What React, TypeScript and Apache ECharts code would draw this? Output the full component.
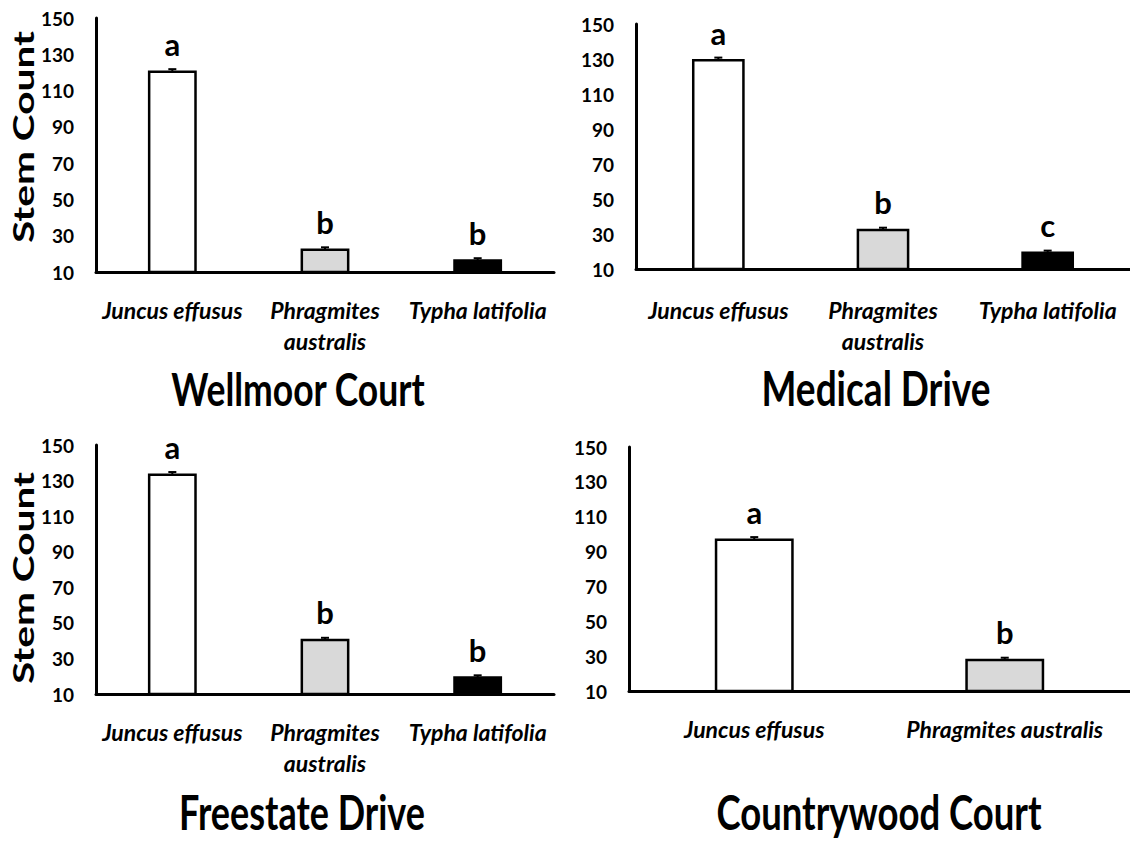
import React, { useEffect, useRef } from "react";
import * as echarts from "echarts";

const siteNames = ["Wellmoor Court", "Medical Drive", "Freestate Drive", "Countrywood Court"];
const speciesThree = ["Juncus effusus", "Phragmites\naustralis", "Typha latifolia"];
const speciesTwo = ["Juncus effusus", "Phragmites australis"];
const yTicks = [10, 30, 50, 70, 90, 110, 130, 150];

const wellmoorCounts = [121, 23, 17];
const wellmoorErrors = [0.8, 0.6, 0.6];
const wellmoorLetters = ["a", "b", "b"];

const medicalCounts = [130, 33, 20];
const medicalErrors = [0.8, 0.6, 0.5];
const medicalLetters = ["a", "b", "c"];

const freestateCounts = [134, 41, 20];
const freestateErrors = [0.8, 0.6, 0.5];
const freestateLetters = ["a", "b", "b"];

const countrywoodCounts = [97.5, 28.5];
const countrywoodErrors = [0.8, 0.6];
const countrywoodLetters = ["a", "b"];

const barColors = ["#ffffff", "#d9d9d9", "#000000"];

const FONT = "Lato, 'Open Sans', sans-serif";

const panels = [
  { categories: speciesThree, counts: wellmoorCounts, errors: wellmoorErrors, letters: wellmoorLetters,
    grid: { left: 96, top: 18, width: 458, height: 254 }, barWidth: "32%", labelMargin: 22 },
  { categories: speciesThree, counts: medicalCounts, errors: medicalErrors, letters: medicalLetters,
    grid: { left: 636, top: 24, width: 494, height: 245 }, barWidth: "32%", labelMargin: 25 },
  { categories: speciesThree, counts: freestateCounts, errors: freestateErrors, letters: freestateLetters,
    grid: { left: 96, top: 445, width: 458, height: 249 }, barWidth: "32%", labelMargin: 22 },
  { categories: speciesTwo, counts: countrywoodCounts, errors: countrywoodErrors, letters: countrywoodLetters,
    grid: { left: 629, top: 447, width: 501, height: 244 }, barWidth: "31.5%", labelMargin: 22 },
];

const titlePos = [
  { x: 298, y: 388, size: 35.5 },
  { x: 876, y: 388, size: 37 },
  { x: 302, y: 812, size: 36 },
  { x: 879, y: 812, size: 36.5 },
];

const stemCountPos = [
  { x: 23, y: 137 },
  { x: 23, y: 578 },
];

function errorRender(params: any, api: any) {
  const cat = api.value(0);
  const v = api.value(1);
  const e = api.value(2);
  const hi = api.coord([cat, v + e]);
  const lo = api.coord([cat, v - e]);
  const x = hi[0];
  const w = 8;
  return {
    type: "group",
    children: [
      { type: "line", shape: { x1: x, y1: hi[1], x2: x, y2: lo[1] }, style: { stroke: "#000", lineWidth: 2 } },
      { type: "line", shape: { x1: x - w / 2, y1: hi[1], x2: x + w / 2, y2: hi[1] }, style: { stroke: "#000", lineWidth: 2 } },
    ],
  };
}

export default function App() {
  const ref = useRef<HTMLDivElement>(null);
  useEffect(() => {
    if (!ref.current) return;
    const chart = echarts.init(ref.current, undefined, { renderer: "svg" });
    const grids: any[] = [];
    const xAxes: any[] = [];
    const yAxes: any[] = [];
    const series: any[] = [];
    panels.forEach((p, i) => {
      grids.push({ ...p.grid, containLabel: false });
      xAxes.push({
        type: "category",
        gridIndex: i,
        data: p.categories,
        axisLine: { show: true, lineStyle: { color: "#000", width: 3 } },
        axisTick: { show: false },
        axisLabel: {
          interval: 0,
          margin: p.labelMargin,
          color: "#000",
          fontFamily: FONT,
          fontStyle: "italic",
          fontWeight: "bold",
          fontSize: 23,
          lineHeight: 31,
        },
        splitLine: { show: false },
      });
      yAxes.push({
        type: "value",
        gridIndex: i,
        min: yTicks[0],
        max: yTicks[yTicks.length - 1],
        interval: yTicks[1] - yTicks[0],
        axisLine: { show: true, lineStyle: { color: "#000", width: 3 } },
        axisTick: { show: false },
        splitLine: { show: false },
        axisLabel: {
          margin: 22,
          color: "#000",
          fontFamily: FONT,
          fontWeight: "bold",
          fontSize: 19,
        },
      });
      series.push({
        type: "bar",
        xAxisIndex: i,
        yAxisIndex: i,
        barWidth: p.barWidth,
        data: p.counts.map((v, j) => ({
          value: v,
          itemStyle: { color: barColors[j], borderColor: "#000", borderWidth: 2.5 },
          label: { formatter: p.letters[j] },
        })),
        label: {
          show: true,
          position: "top",
          distance: 11,
          color: "#000",
          fontFamily: FONT,
          fontWeight: "bold",
          fontSize: 31,
        },
      });
      series.push({
        type: "custom",
        xAxisIndex: i,
        yAxisIndex: i,
        renderItem: errorRender,
        encode: { x: 0, y: 1 },
        data: p.counts.map((v, j) => [j, v, p.errors[j]]),
        z: 5,
      });
    });

    const graphics: any[] = [];
    siteNames.forEach((name, i) => {
      graphics.push({
        type: "text",
        x: titlePos[i].x,
        y: titlePos[i].y,
        scaleY: 1.3,
        style: {
          text: name,
          fill: "#000",
          font: `bold ${titlePos[i].size}px ${FONT}`,
          textAlign: "center",
          textVerticalAlign: "middle",
        },
      });
    });
    stemCountPos.forEach((pos) => {
      graphics.push({
        type: "text",
        x: pos.x,
        y: pos.y,
        rotation: Math.PI / 2,
        scaleX: 1.45,
        style: {
          text: "Stem Count",
          fill: "#000",
          font: `bold 28px ${FONT}`,
          textAlign: "center",
          textVerticalAlign: "middle",
        },
      });
    });

    chart.setOption({
      animation: false,
      backgroundColor: "#ffffff",
      grid: grids,
      xAxis: xAxes,
      yAxis: yAxes,
      series,
      graphic: graphics,
    });
    return () => chart.dispose();
  }, []);
  return (
    <div
      ref={ref}
      style={{ position: "absolute", left: 0, top: 0, width: 1130, height: 843 }}
    />
  );
}
